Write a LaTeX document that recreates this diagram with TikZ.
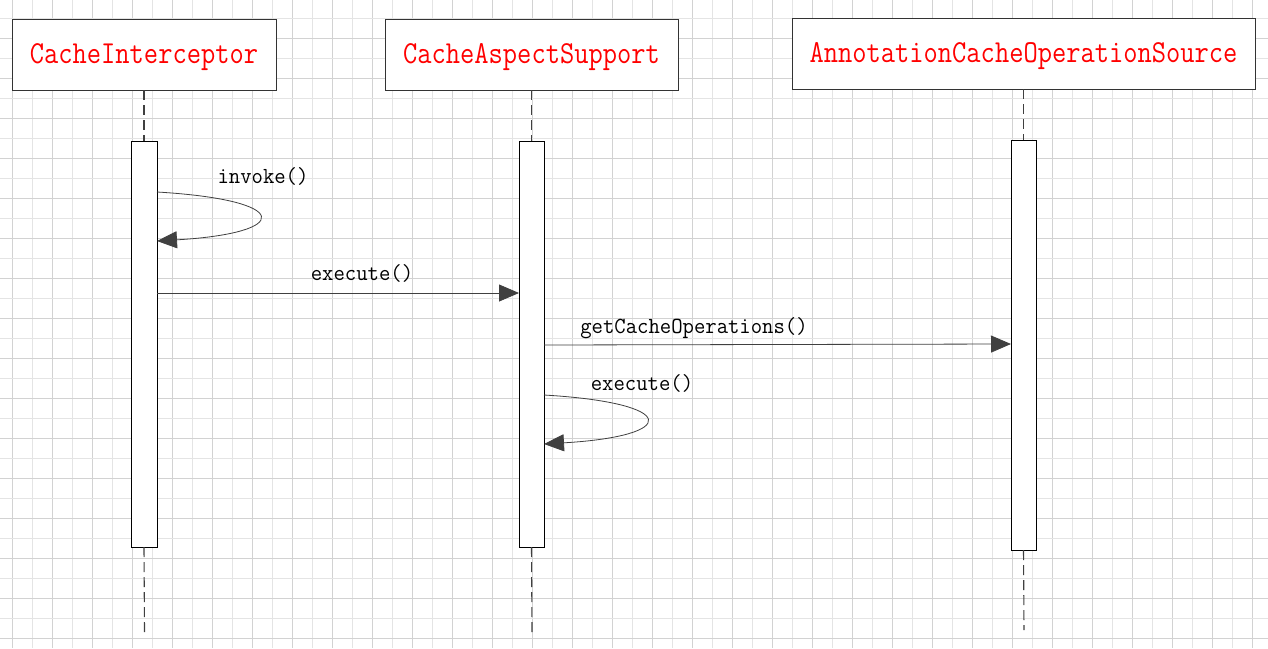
\documentclass[tikz,border=0pt]{standalone}
\usepackage{fontspec}
\usepackage{graphicx}
\usetikzlibrary{arrows.meta}
\newcommand\boxtxt[1]{\raisebox{-8.5pt}[0pt][0pt]{\scalebox{0.865}[1]{#1}}}
\newcommand\lbltxt[1]{\scalebox{0.96}[1]{#1}}
\definecolor{gridA}{HTML}{E4E4E4}
\definecolor{gridB}{HTML}{D2D2D2}
\definecolor{edge}{HTML}{333333}
\definecolor{arr}{HTML}{404040}
\tikzset{
  objbox/.style={draw=edge, line width=1pt, fill=white, inner sep=0pt, outer sep=0pt,
    minimum height=71pt, text=red, font=\ttfamily\fontsize{32}{38}\selectfont},
  actbox/.style={draw=black, line width=1pt, fill=white, inner sep=0pt, outer sep=0pt},
  lifeline/.style={draw=arr, line width=1.1pt, dash pattern=on 10pt off 5pt},
  msg/.style={draw=arr, line width=0.8pt, -{Triangle[length=20pt,width=17pt]}, arr},
  lbl/.style={font=\ttfamily\fontsize{23}{27}\selectfont, text=black, inner sep=0pt}
}
\begin{document}
\begin{tikzpicture}[x=1pt,y=-1pt]
\useasboundingbox (0,0) rectangle (1268,648);
\fill[white] (0,0) rectangle (1268,648);
% grid
\foreach \gx in {12.3,52.3,...,1268} \draw[gridB, line width=0.8pt] (\gx,0) -- (\gx,648);
\foreach \gx in {32.3,72.3,...,1268} \draw[gridA, line width=0.8pt] (\gx,0) -- (\gx,648);
\foreach \gy in {38.3,78.3,...,648} \draw[gridB, line width=0.8pt] (0,\gy) -- (1268,\gy);
\foreach \gy in {18.3,58.3,...,648} \draw[gridA, line width=0.8pt] (0,\gy) -- (1268,\gy);

% objects
\node[objbox, minimum width=264pt] (o1) at (144,54.5) {\boxtxt{CacheInterceptor}};
\node[objbox, minimum width=293pt] (o2) at (531.5,54.5) {\boxtxt{CacheAspectSupport}};
\node[objbox, minimum width=463pt] (o3) at (1023.5,53.5) {\boxtxt{AnnotationCacheOperationSource}};

% lifeline ends
\coordinate (e1) at (144.5,632);
\coordinate (e2) at (532,632);
\coordinate (e3) at (1024,630);

% activations
\node[actbox, minimum width=26pt, minimum height=406pt] (a1) at (144,344) {};
\node[actbox, minimum width=25pt, minimum height=406pt] (a2) at (531.5,344) {};
\node[actbox, minimum width=25pt, minimum height=410pt] (a3) at (1023.5,345) {};

% lifelines
\draw[lifeline] (o1.south -| a1.north) -- (a1.north);
\draw[lifeline] (a1.south) -- (e1);
\draw[lifeline] (o2.south -| a2.north) -- (a2.north);
\draw[lifeline] (a2.south) -- (e2);
\draw[lifeline] (o3.south -| a3.north) -- (a3.north);
\draw[lifeline] (a3.south) -- (e3);

% messages
\draw[msg] ([yshift=-51pt]a1.north east) .. controls +(136,8) and +(136,-8) .. ([yshift=-100pt]a1.north east);
\node[lbl] (l1) at (263,176) {\lbltxt{invoke()}};

\draw[msg] ([yshift=-152pt]a1.north east) coordinate (m2) -- (m2 -| a2.west);
\node[lbl] (l2) at (362,273) {\lbltxt{execute()}};

\draw[msg] ([yshift=-204pt]a2.north east) -- ([yshift=-204pt]a3.north west);
\node[lbl] (l3) at (694,328) {\lbltxt{getCacheOperations()}};

\draw[msg] ([yshift=-254pt]a2.north east) .. controls +(136,8) and +(136,-8) .. ([yshift=-303pt]a2.north east);
\node[lbl] (l4) at (642,383) {\lbltxt{execute()}};
\end{tikzpicture}
\end{document}
